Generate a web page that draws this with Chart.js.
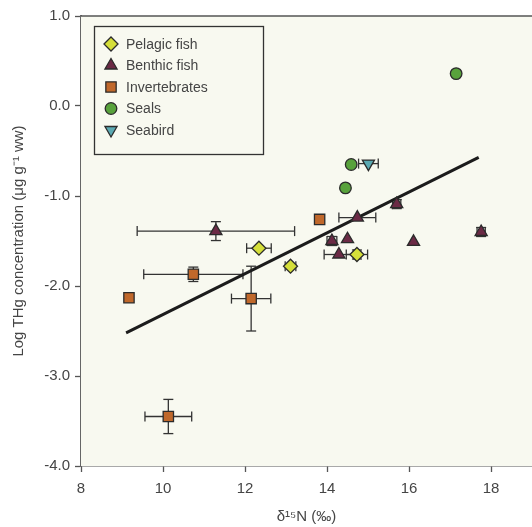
<!DOCTYPE html>
<html>
<head>
<meta charset="utf-8">
<script src="https://cdn.jsdelivr.net/npm/chart.js@4.4.0/dist/chart.umd.min.js"></script>
<style>
  html, body { margin: 0; padding: 0; background: #fff; }
</style>
</head>
<body>
<canvas id="thgChart" width="532" height="527"></canvas>
<script>
// δ15N (‰) against log THg per group; *Err arrays are ± half-widths (0 = no bar)
const pelagicN = [12.34, 13.11, 14.73];
const pelagicHg = [-1.58, -1.78, -1.65];
const pelagicNErr = [0.30, 0.13, 0.26];
const pelagicHgErr = [0, 0, 0.05];

const benthicN = [11.29, 14.12, 14.50, 14.29, 14.74, 15.70, 16.11, 17.76];
const benthicHg = [-1.39, -1.50, -1.48, -1.65, -1.24, -1.09, -1.51, -1.40];
const benthicNErr = [1.92, 0.12, 0, 0.36, 0.45, 0.10, 0, 0.10];
const benthicHgErr = [0.105, 0.05, 0, 0, 0, 0.05, 0, 0.05];

const invertN = [9.17, 10.74, 12.15, 10.13, 13.82];
const invertHg = [-2.13, -1.87, -2.14, -3.45, -1.26];
const invertNErr = [0, 1.21, 0.48, 0.57, 0];
const invertHgErr = [0, 0.08, 0.36, 0.19, 0];

const sealN = [17.15, 14.59, 14.45];
const sealHg = [0.36, -0.65, -0.91];

const seabirdN = [15.01];
const seabirdHg = [-0.64];
const seabirdNErr = [0.24];

// regression line end points
const fitN = [9.1, 17.7];
const fitHg = [-2.52, -0.57];

const xTicks = [8, 10, 12, 14, 16, 18];
const yTicks = [1, 0, -1, -2, -3, -4];

const FONT = "'Liberation Sans', Arial, Helvetica, sans-serif";
const TEXT = '#454545';
const OUTLINE = '#2b2b2b';

function toPoints(xs, ys, xErr, yErr) {
    return xs.map((x, i) => ({
        x: x,
        y: ys[i],
        xErr: xErr ? xErr[i] : 0,
        yErr: yErr ? yErr[i] : 0
    }));
}

// cream plot background plus the top frame line
const plotFrame = {
    id: 'plotFrame',
    beforeDatasetsDraw(chart) {
        const a = chart.chartArea;
        const ctx = chart.ctx;
        ctx.save();
        ctx.fillStyle = '#f8f9f0';
        ctx.fillRect(a.left, a.top, a.right - a.left, a.bottom - a.top);
        ctx.strokeStyle = '#555';
        ctx.lineWidth = 1.5;
        ctx.beginPath();
        ctx.moveTo(a.left, a.top);
        ctx.lineTo(a.right, a.top);
        ctx.stroke();
        ctx.restore();
    }
};

// horizontal / vertical error bars with caps, drawn under the markers
const errorBars = {
    id: 'errorBars',
    beforeDatasetsDraw(chart) {
        const ctx = chart.ctx;
        const xs = chart.scales.x;
        const ys = chart.scales.y;
        const cap = 5;
        const seg = (x1, y1, x2, y2) => {
            ctx.beginPath();
            ctx.moveTo(x1, y1);
            ctx.lineTo(x2, y2);
            ctx.stroke();
        };
        ctx.save();
        ctx.strokeStyle = '#333';
        ctx.lineWidth = 1.3;
        chart.data.datasets.forEach(ds => {
            if (!ds.errorBars) return;
            ds.data.forEach(p => {
                const px = xs.getPixelForValue(p.x);
                const py = ys.getPixelForValue(p.y);
                if (p.xErr) {
                    const l = xs.getPixelForValue(p.x - p.xErr);
                    const r = xs.getPixelForValue(p.x + p.xErr);
                    seg(l, py, r, py);
                    seg(l, py - cap, l, py + cap);
                    seg(r, py - cap, r, py + cap);
                }
                if (p.yErr) {
                    const t = ys.getPixelForValue(p.y + p.yErr);
                    const b = ys.getPixelForValue(p.y - p.yErr);
                    seg(px, t, px, b);
                    seg(px - cap, t, px + cap, t);
                    seg(px - cap, b, px + cap, b);
                }
            });
        });
        ctx.restore();
    }
};

// boxed legend in the upper left of the plot
const boxLegend = {
    id: 'boxLegend',
    afterDraw(chart) {
        const a = chart.chartArea;
        const ctx = chart.ctx;
        const bx = a.left + 13.5, by = a.top + 10.5;
        ctx.save();
        ctx.fillStyle = '#f8f9f0';
        ctx.fillRect(bx, by, 169, 128);
        ctx.strokeStyle = '#333';
        ctx.lineWidth = 1.3;
        ctx.strokeRect(bx, by, 169, 128);
        ctx.font = '14px ' + FONT;
        ctx.textBaseline = 'middle';
        chart.data.datasets.filter(ds => ds.errorBars !== undefined).forEach((ds, i) => {
            const rowY = a.top + 28 + i * 21.5;
            ctx.fillStyle = ds.backgroundColor;
            ctx.strokeStyle = ds.borderColor;
            ctx.lineWidth = ds.borderWidth;
            Chart.helpers.drawPoint(ctx, {
                pointStyle: ds.pointStyle,
                rotation: ds.rotation || 0,
                radius: ds.pointRadius,
                borderWidth: ds.borderWidth
            }, a.left + 30, rowY);
            ctx.fillStyle = TEXT;
            ctx.fillText(ds.label, a.left + 45, rowY + 1);
        });
        ctx.restore();
    }
};

const ctx = document.getElementById('thgChart').getContext('2d');

new Chart(ctx, {
    type: 'scatter',
    data: {
        datasets: [
            {
                label: 'Pelagic fish',
                data: toPoints(pelagicN, pelagicHg, pelagicNErr, pelagicHgErr),
                errorBars: true,
                pointStyle: 'rectRot',
                pointRadius: 7,
                backgroundColor: '#d5df3a',
                borderColor: OUTLINE,
                borderWidth: 1.3
            },
            {
                label: 'Benthic fish',
                data: toPoints(benthicN, benthicHg, benthicNErr, benthicHgErr),
                errorBars: true,
                pointStyle: 'triangle',
                pointRadius: 7,
                backgroundColor: '#6b2a45',
                borderColor: OUTLINE,
                borderWidth: 1.3
            },
            {
                label: 'Invertebrates',
                data: toPoints(invertN, invertHg, invertNErr, invertHgErr),
                errorBars: true,
                pointStyle: 'rect',
                pointRadius: 7.3,
                backgroundColor: '#c0682b',
                borderColor: OUTLINE,
                borderWidth: 1.3
            },
            {
                label: 'Seals',
                data: toPoints(sealN, sealHg),
                errorBars: false,
                pointStyle: 'circle',
                pointRadius: 5.8,
                backgroundColor: '#58a23c',
                borderColor: OUTLINE,
                borderWidth: 1.3
            },
            {
                label: 'Seabird',
                data: toPoints(seabirdN, seabirdHg, seabirdNErr),
                errorBars: true,
                pointStyle: 'triangle',
                rotation: 180,
                pointRadius: 7,
                backgroundColor: '#5ba9b2',
                borderColor: OUTLINE,
                borderWidth: 1.3
            },
            {
                label: 'fit',
                data: fitN.map((n, i) => ({ x: n, y: fitHg[i] })),
                showLine: true,
                pointRadius: 0,
                borderColor: '#1c1c1c',
                borderWidth: 3
            }
        ]
    },
    options: {
        responsive: false,
        animation: false,
        layout: {
            autoPadding: false,
            padding: { top: 16, right: 0, left: 0, bottom: 0 }
        },
        plugins: {
            legend: { display: false },
            tooltip: { enabled: false }
        },
        elements: {
            point: { hoverRadius: 0 }
        },
        scales: {
            x: {
                type: 'linear',
                min: 8,
                max: 19,
                afterBuildTicks: s => { s.ticks = xTicks.map(v => ({ value: v })); },
                afterFit: s => {
                    s.height = 61;
                    s.paddingLeft = 0;
                    s.paddingRight = 0;
                },
                ticks: {
                    color: TEXT,
                    font: { size: 15, family: FONT },
                    padding: 8,
                    maxRotation: 0,
                    autoSkip: false
                },
                grid: {
                    drawOnChartArea: false,
                    drawTicks: true,
                    tickLength: 6,
                    tickWidth: 1.3,
                    tickColor: '#555'
                },
                border: { display: true, color: '#555', width: 1.5 },
                title: {
                    display: true,
                    text: 'δ¹⁵N (‰)',
                    color: TEXT,
                    font: { size: 15, family: FONT },
                    padding: { top: 0, bottom: 1 }
                }
            },
            y: {
                type: 'linear',
                min: -4,
                max: 1,
                afterBuildTicks: s => { s.ticks = yTicks.map(v => ({ value: v })); },
                afterFit: s => { s.width = 81; },
                ticks: {
                    color: TEXT,
                    font: { size: 15, family: FONT },
                    padding: 5,
                    autoSkip: false,
                    callback: v => v.toFixed(1)
                },
                grid: {
                    drawOnChartArea: false,
                    drawTicks: true,
                    tickLength: 6,
                    tickWidth: 1.3,
                    tickColor: '#555'
                },
                border: { display: true, color: '#666', width: 2 },
                title: {
                    display: true,
                    text: 'Log THg concentration (μg g⁻¹ ww)',
                    color: TEXT,
                    font: { size: 15, family: FONT },
                    padding: { top: 10, bottom: 0 }
                }
            }
        }
    },
    plugins: [plotFrame, errorBars, boxLegend]
});
</script>
</body>
</html>
